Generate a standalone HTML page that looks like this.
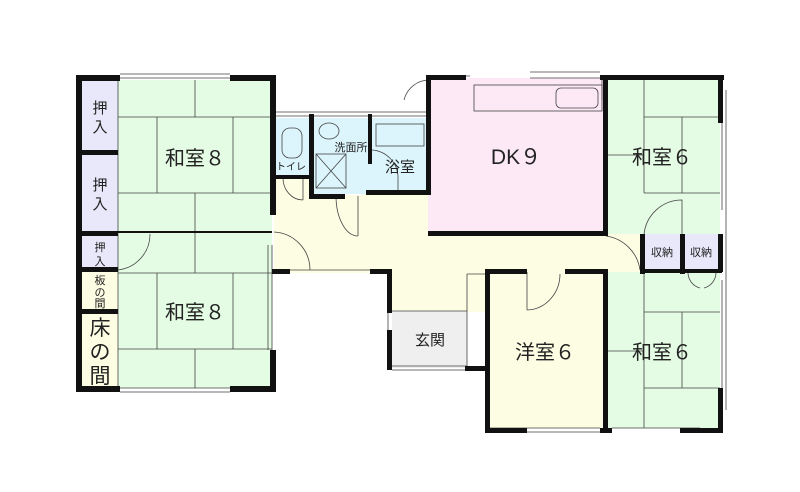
<!DOCTYPE html>
<html><head><meta charset="utf-8"><style>
body{margin:0;background:#fff;width:800px;height:487px;overflow:hidden}
text{font-family:"Liberation Sans","Noto Sans CJK JP",sans-serif;fill:#222}
</style></head><body>
<svg width="800" height="487" viewBox="0 0 800 487" xmlns="http://www.w3.org/2000/svg">
<rect x="274" y="195" width="156" height="78" fill="#fdfde3"/>
<rect x="274" y="176" width="40" height="20" fill="#fdfde3"/>
<rect x="428" y="234" width="214" height="39" fill="#fdfde3"/>
<rect x="392" y="272" width="96" height="40" fill="#fdfde3"/>
<rect x="81" y="80" width="37" height="154" fill="#e8e8fa"/>
<rect x="81" y="234" width="37" height="36" fill="#e8e8fa"/>
<rect x="81" y="270" width="37" height="118" fill="#fdfde3"/>
<rect x="118" y="80" width="154" height="308" fill="#e4fbe4"/>
<rect x="274" y="118" width="38" height="58" fill="#dcf5fc"/>
<rect x="312" y="118" width="118" height="76" fill="#dcf5fc"/>
<rect x="428" y="78" width="178" height="156" fill="#fde9f6"/>
<rect x="606" y="78" width="114" height="156" fill="#e4fbe4"/>
<rect x="606" y="272" width="114" height="156" fill="#e4fbe4"/>
<rect x="642" y="234" width="80" height="38" fill="#e8e8fa"/>
<rect x="488" y="272" width="118" height="156" fill="#fdfde3"/>
<rect x="392" y="311" width="75" height="57" fill="#efefef"/>
<g stroke="#444" stroke-width="0.8" fill="none">
<path d="M118 117H272M118 193H272M195 80V117M157 117V193M233 117V193M195 193V234"/>
<path d="M118 273H272M118 349H272M195 234V273M157 273V349M233 273V349M195 349V388"/>
<path d="M81 153H118M81 234H118M81 270H118M118 80V388"/>
<path d="M644 80V193M644 117H720M682 117V193M644 193H720M606 155H644"/>
<path d="M644 274V428M644 312H720M682 312V388M644 388H720M606 351H644"/>
<path d="M467 274V368M467 311H392M467 274H488"/>
<path d="M120 78H230M120 74H230M120 388H230M120 392H230M490 428H600M490 432H600M612 428H700M722 90V210M722 280V410M726 90V410"/>
<path d="M274 112H430M274 116H430M530 78H600M530 72H600M430 76H470M602 80V100"/>
<path d="M272 245V350M268 245V350M388 280V370M392 370H467M392 366H467"/>
<path d="M430 80V134M404 100A26 26 0 0 1 430 80M274 270H390"/>
<path d="M644 235A38 38 0 0 1 682 200V235"/>
<path d="M150 234A36 36 0 0 1 118 270M274 232A38 38 0 0 1 310 270"/>
<path d="M527 272V310M527 310A34 36 0 0 0 560 274"/>
<path d="M303 178V200M283 178A20 22 0 0 0 303 200"/>
<path d="M358 196V236M336 196A22 40 0 0 0 358 236"/>
<path d="M372 150A28 28 0 0 1 398 176V192"/>
<path d="M606 236A40 40 0 0 1 640 270M688 272A16 16 0 0 0 700 288M716 272A16 16 0 0 1 704 288"/>
<rect x="474" y="85" width="128" height="26"/>
<rect x="556" y="88" width="42" height="20" rx="5"/>
<rect x="376" y="124" width="48" height="22"/>
<rect x="282" y="128" width="20" height="30" rx="8"/>
<rect x="316" y="154" width="30" height="34"/>
<path d="M316 154L346 188M346 154L316 188"/>
<ellipse cx="329" cy="131" rx="10" ry="8"/>
</g>
<g fill="#111">
<rect x="76" y="75" width="6" height="316"/>
<rect x="76" y="75" width="44" height="6"/>
<rect x="230" y="75" width="46" height="6"/>
<rect x="76" y="386" width="44" height="6"/>
<rect x="230" y="386" width="46" height="6"/>
<rect x="270" y="75" width="6" height="140"/>
<rect x="270" y="350" width="6" height="42"/>
<rect x="76" y="231" width="42" height="5"/>
<rect x="76" y="150" width="42" height="5"/>
<rect x="76" y="267" width="42" height="5"/>
<rect x="76" y="309" width="42" height="5"/>
<rect x="118" y="231" width="154" height="2"/>
<rect x="272" y="175" width="40" height="4"/>
<rect x="309" y="114" width="5" height="84"/>
<rect x="309" y="194" width="36" height="5"/>
<rect x="366" y="190" width="64" height="5"/>
<rect x="368" y="114" width="4" height="50"/>
<rect x="426" y="75" width="5" height="120"/>
<rect x="426" y="75" width="40" height="5"/>
<rect x="600" y="75" width="124" height="5"/>
<rect x="603" y="80" width="5" height="156"/>
<rect x="428" y="231" width="180" height="5"/>
<rect x="718" y="75" width="5" height="48"/>
<rect x="718" y="234" width="5" height="38"/>
<rect x="718" y="388" width="5" height="44"/>
<rect x="640" y="234" width="5" height="40"/>
<rect x="680" y="234" width="5" height="40"/>
<rect x="640" y="269" width="82" height="4"/>
<rect x="272" y="269" width="18" height="5"/>
<rect x="370" y="269" width="22" height="5"/>
<rect x="387" y="269" width="5" height="44"/>
<rect x="387" y="330" width="5" height="40"/>
<rect x="465" y="366" width="24" height="5"/>
<rect x="485" y="269" width="5" height="164"/>
<rect x="485" y="269" width="42" height="5"/>
<rect x="565" y="269" width="42" height="5"/>
<rect x="603" y="269" width="5" height="164"/>
<rect x="485" y="428" width="42" height="5"/>
<rect x="600" y="428" width="12" height="5"/>
<rect x="680" y="428" width="43" height="5"/>
</g>
<g font-size="20" text-anchor="middle">
<text x="195" y="165">和室８</text>
<text x="195" y="319">和室８</text>
<text x="662" y="164">和室６</text>
<text x="662" y="359">和室６</text>
<text x="545" y="359">洋室６</text>
<text x="516" y="164" font-size="21">DK９</text>
</g>
<g font-size="15" text-anchor="middle">
<text x="100" y="113">押</text><text x="100" y="132">入</text>
<text x="100" y="190">押</text><text x="100" y="209">入</text>
<text x="400" y="172">浴室</text>
<text x="430" y="345">玄関</text>
</g>
<g font-size="11" text-anchor="middle">
<text x="100" y="251">押</text><text x="100" y="265">入</text>
<text x="100" y="284">板</text><text x="100" y="296">の</text><text x="100" y="307">間</text>
<text x="351" y="151">洗面所</text>
<text x="662" y="256">収納</text>
<text x="701" y="256">収納</text>
</g>
<text x="291" y="170" font-size="10" text-anchor="middle">トイレ</text>
<g font-size="21" text-anchor="middle">
<text x="100" y="335">床</text><text x="100" y="359">の</text><text x="100" y="383">間</text>
</g>
</svg>
</body></html>
